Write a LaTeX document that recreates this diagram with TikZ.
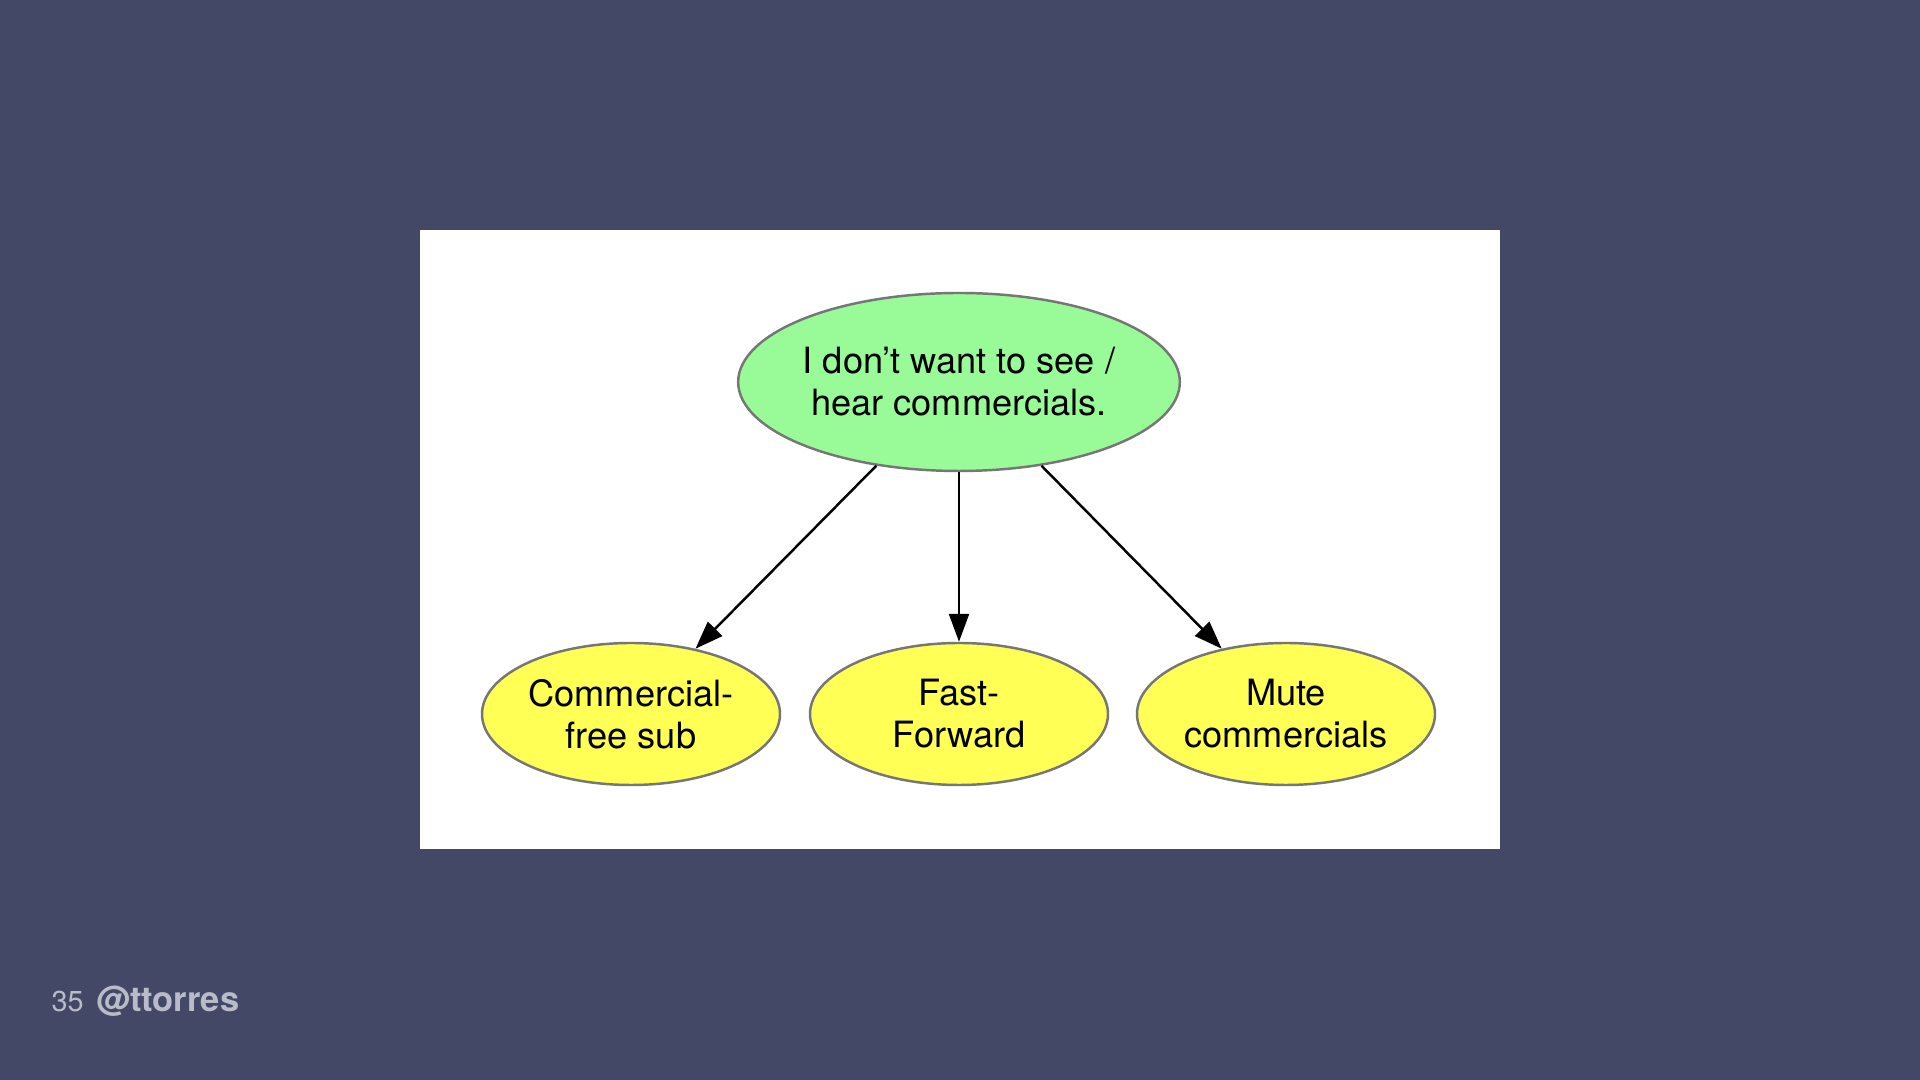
\documentclass[tikz,border=0pt]{standalone}
\usepackage{fontspec}
\setmainfont{TeX Gyre Heros}
\usepackage{tikz}
\usetikzlibrary{arrows.meta,shapes.geometric}
\definecolor{slidebg}{RGB}{67, 72, 102}
\definecolor{palegreen}{RGB}{152, 251, 152}
\definecolor{lyellow}{RGB}{255, 255, 85}
\definecolor{egray}{RGB}{118, 118, 118}
\definecolor{footgray}{RGB}{185, 188, 200}

\tikzset{
  goal/.style = {ellipse, draw = egray, line width = 0.7pt, fill = palegreen,
    minimum width = 4.4cm, minimum height = 1.78cm, inner sep = 0pt,
    align = center, font = \fontsize{10.3}{11.95}\selectfont},
  option/.style = {goal, fill = lyellow, minimum width = 2.98cm, minimum height = 1.42cm},
  link/.style = {line width = 0.7pt, -{Triangle[length = 0.28cm, width = 0.2cm]}}
}

\begin{document}
\begin{tikzpicture}[scale = 1]
			\fill[slidebg] (0,0) rectangle (19.2,10.8);
			\fill[white] (4.2,2.31) rectangle (15.0,8.5);
			\node (want) at (9.59,6.98) [goal] {I don’t want to see /\\hear commercials.};
			\node (sub) at (6.31,3.66) [option] {Commercial-\\free sub};
			\node (ff) at (9.59,3.66) [option] {Fast-\\Forward};
			\node (mute) at (12.86,3.66) [option] {Mute\\commercials};
			\draw[link] (want) -- (sub);
			\draw[link] (want) -- (ff);
			\draw[link] (want) -- (mute);
			\node (page) at (0.51,0.68) [anchor = base west, inner sep = 0pt, text = footgray, font = \fontsize{8.2}{9.8}\selectfont] {35};
			\node (handle) at (0.96,0.68) [anchor = base west, inner sep = 0pt, text = footgray, font = \fontsize{9.8}{11.7}\selectfont\bfseries] {@ttorres};
			\end{tikzpicture}
\end{document}
